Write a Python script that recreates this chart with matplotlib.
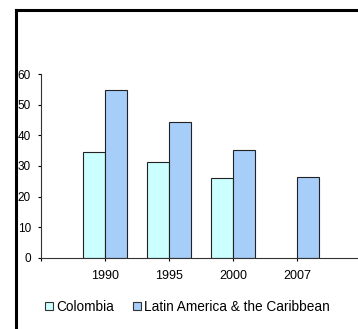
import matplotlib
matplotlib.use("Agg")
import matplotlib.pyplot as plt
from matplotlib.patches import Patch
from matplotlib.lines import Line2D
import numpy as np

plt.rcParams['font.family'] = ['Liberation Sans', 'DejaVu Sans']
plt.rcParams['font.size'] = 8.5

years = ["1990", "1995", "2000", "2007"]
colombia = [34.5, 31.4, 26.0, None]
latam = [54.8, 44.3, 35.1, 26.3]
names = ["Colombia", "Latin America & the Caribbean"]
colors = ["#CCFFFF", "#A6CEF8"]

fig = plt.figure(figsize=(3.58, 3.29), dpi=100)
ax = fig.add_axes([41 / 358, 71.3 / 329, 1 - 41 / 358, (257.7 - 74.3) / 329])

x = np.arange(len(years))
w = 0.34
col_x = [xi - w / 2 for xi, v in zip(x, colombia) if v is not None]
col_v = [v for v in colombia if v is not None]
ax.bar(col_x, col_v, w, color=colors[0], edgecolor="#222222", linewidth=0.8)
ax.bar(x + w / 2, latam, w, color=colors[1], edgecolor="#222222", linewidth=0.8)

ax.set_xlim(-1.0, 3.95)
ax.set_ylim(0, 60)
ax.set_yticks(range(0, 61, 10))
ax.set_xticks([-1, 0, 1, 2, 3])
ax.set_xticklabels([""] + years, fontsize=9)
ax.tick_params(axis="x", length=2.2, width=0.8, pad=6.5)
ax.tick_params(axis="y", length=2.2, width=0.8, pad=5)
for s in ["top", "right"]:
    ax.spines[s].set_visible(False)
for s in ["left", "bottom"]:
    ax.spines[s].set_linewidth(0.8)
    ax.spines[s].set_color("#333333")
ax.patch.set_alpha(0)

handles = [Patch(facecolor=c, edgecolor="#333333", linewidth=0.8) for c in colors]
fig.legend(handles, names, loc="center left", bbox_to_anchor=(33 / 358, 1 - 306.7 / 329),
           ncol=2, frameon=False, handlelength=0.6, handleheight=0.6,
           handletextpad=0.2, columnspacing=1.4, fontsize=9.8)

# outer frame: thick line on top and left only
fig.add_artist(Line2D([15.5 / 358, 1], [1 - 10 / 329, 1 - 10 / 329],
                      color="black", linewidth=2.2, transform=fig.transFigure))
fig.add_artist(Line2D([15.5 / 358, 15.5 / 358], [0, 1 - 10 / 329],
                      color="black", linewidth=2.2, transform=fig.transFigure))

fig.savefig("out.png", dpi=100, facecolor="white")
